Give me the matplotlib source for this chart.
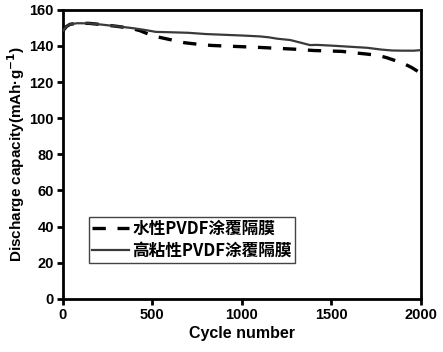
import matplotlib
matplotlib.use("Agg")
import matplotlib.pyplot as plt

plt.rcParams['font.family'] = ['Liberation Sans', 'Noto Sans CJK SC', 'DejaVu Sans']

cycles_solid = [1, 20, 40, 80, 150, 220, 300, 380, 450, 520, 600, 700, 800, 900, 1000,
                1100, 1150, 1200, 1270, 1330, 1380, 1420, 1500, 1600, 1700, 1780, 1840, 1900, 1960, 2000]
cap_solid = [148.5, 150.8, 152.0, 152.6, 152.5, 151.8, 150.9, 150.0, 149.0, 147.8, 147.6, 147.3, 146.6, 146.2, 145.8,
             145.3, 144.8, 144.0, 143.3, 141.8, 140.5, 140.6, 140.2, 139.6, 139.0, 138.0, 137.5, 137.4, 137.4, 137.7]

cycles_dash = [1, 20, 40, 80, 150, 220, 300, 380, 430, 480, 530, 600, 680, 750, 830, 900, 1000,
               1100, 1200, 1300, 1400, 1500, 1560, 1620, 1700, 1760, 1810, 1860, 1900, 1950, 1990]
cap_dash = [148.5, 150.8, 152.0, 152.6, 152.5, 151.8, 150.9, 149.8, 148.5, 146.5, 145.0, 143.5, 141.8, 141.0, 140.3, 140.0, 139.6,
            139.2, 138.7, 138.2, 137.5, 137.2, 137.0, 136.3, 135.5, 134.8, 133.5, 131.8, 130.5, 128.0, 125.5]

labels = ['水性PVDF涂覆隔膜', '高粘性PVDF涂覆隔膜']
xticks = [0, 500, 1000, 1500, 2000]
yticks = [0, 20, 40, 60, 80, 100, 120, 140, 160]

fig = plt.figure(figsize=(4.43, 3.52), dpi=100)
ax = fig.add_axes([0.142, 0.151, 0.808, 0.821])

ax.plot(cycles_dash, cap_dash, color='black', lw=2.4, linestyle=(0, (4, 3.5)), label=labels[0], zorder=2)
ax.plot(cycles_solid, cap_solid, color='#3a3a3a', lw=1.6, label=labels[1], zorder=3)

ax.set_xlim(0, 2000)
ax.set_ylim(0, 160)
ax.set_xticks(xticks)
ax.set_yticks(yticks)
for s in ax.spines.values():
    s.set_linewidth(2)
ax.tick_params(direction='out', width=2, length=4.5, labelsize=10.5, pad=2)
for lab in ax.get_xticklabels() + ax.get_yticklabels():
    lab.set_fontweight('bold')

ax.set_xlabel('Cycle number', fontsize=11.5, fontweight='bold', labelpad=3)
ax.set_ylabel('Discharge capacity(mAh·g$^{\\mathbf{-1}}$)', fontsize=11, fontweight='bold', labelpad=2)

leg = ax.legend(loc='lower left', bbox_to_anchor=(0.073, 0.125), borderaxespad=0, fancybox=False,
                edgecolor='#444444', framealpha=1, handlelength=2.2, handletextpad=0.2,
                borderpad=0.2, labelspacing=0.2,
                prop={'family': ['Noto Sans CJK SC', 'DejaVu Sans'], 'weight': 'bold', 'size': 12})
leg.get_frame().set_linewidth(1.0)

fig.savefig('out.png', dpi=100)
